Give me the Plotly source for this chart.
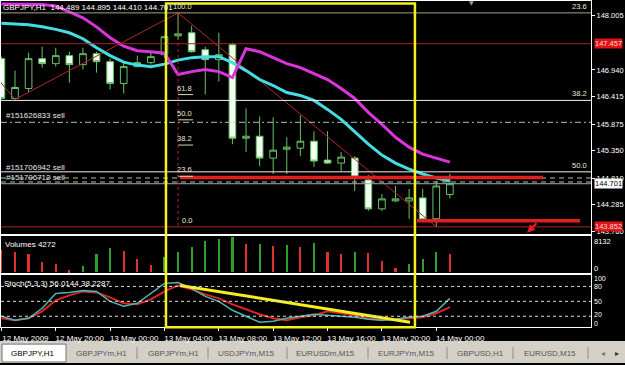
import plotly.graph_objects as go

# ---------------- data ----------------
bar_index = list(range(34))
opens = [147.163, 146.380, 146.576, 147.163, 147.065, 147.222, 147.045, 147.261, 147.104, 146.674,
         147.006, 147.085, 147.241, 147.613, 147.672, 147.339, 147.143, 147.437, 145.597, 145.636,
         145.205, 145.381, 145.401, 145.538, 145.166, 145.107, 145.205, 144.775, 144.207, 144.363,
         144.363, 144.422, 144.011, 144.489]
highs = [147.202, 146.928, 147.280, 147.398, 147.378, 147.300, 147.378, 147.300, 147.163, 147.085,
         147.222, 147.280, 147.613, 148.064, 147.809, 147.398, 147.672, 147.476, 146.184, 146.027,
         146.008, 145.616, 146.047, 145.734, 145.734, 145.323, 145.244, 144.872, 144.500, 144.657,
         144.598, 144.598, 144.755, 144.895]
lows = [146.360, 146.360, 146.497, 146.987, 147.006, 146.693, 146.948, 146.889, 146.556, 146.478,
        146.997, 147.045, 147.183, 147.535, 147.280, 146.458, 146.713, 145.479, 145.323, 145.049,
        144.892, 144.892, 145.244, 145.029, 145.088, 144.951, 144.559, 144.168, 144.168, 144.344,
        144.011, 143.972, 143.854, 144.410]
closes = [146.380, 146.595, 147.163, 147.065, 147.222, 147.045, 147.261, 147.104, 146.674, 147.006,
          147.085, 147.202, 147.594, 147.652, 147.300, 147.143, 147.241, 145.597, 145.636, 145.205,
          145.362, 145.421, 145.538, 145.147, 145.107, 145.225, 144.833, 144.207, 144.403, 144.403,
          144.422, 143.992, 144.657, 144.701]
ma_fast = [147.858, 147.848, 147.829, 147.789, 147.740, 147.672, 147.555, 147.378, 147.222, 147.094,
           147.036, 147.006, 147.055, 147.134, 147.183, 147.202, 147.202, 147.085, 146.928, 146.752,
           146.634, 146.497, 146.439, 146.341, 146.164, 145.969, 145.714, 145.479, 145.264, 145.107,
           144.990, 144.892, 144.814, 144.755]
ma_slow = [148.240, 148.240, 148.240, 148.230, 148.201, 148.083, 147.966, 147.789, 147.574, 147.408,
           147.320, 147.300, 147.271, 146.850, 146.908, 146.948, 146.908, 146.791, 147.359, 147.300,
           147.183, 147.065, 146.987, 146.869, 146.752, 146.576, 146.380, 146.106, 145.871, 145.616,
           145.421, 145.284, 145.205, 145.127]
volumes = [5200, 4670, 4300, 2490, 1960, 420, 1570, 4350, 5660, 5040,
           3120, 1730, 3500, 4800, 5820, 7350, 7740, 8132, 6500, 6650,
           6190, 6350, 5820, 6810, 4800, 4270, 4670, 4500, 2660, 970,
           1960, 3120, 4670, 4272]
stoch_k = [20, 12, 16, 36, 66, 68, 72, 70, 50, 40, 46, 66, 86, 88, 76, 60, 50, 32, 20, 8,
           10, 16, 20, 24, 22, 20, 18, 14, 12, 14, 18, 20, 30, 56.0144]
stoch_d = [16, 12, 16, 30, 52, 62, 70, 68, 58, 46, 44, 54, 70, 82, 74, 64, 56, 44, 34, 24,
           16, 12, 18, 22, 30, 26, 22, 16, 12, 14, 16, 18, 26, 38.2287]

time_ticks = [0, 4, 8, 12, 16, 20, 24, 28, 32]
time_labels = ["12 May 2009", "12 May 20:00", "13 May 00:00", "13 May 04:00", "13 May 08:00",
               "13 May 12:00", "13 May 16:00", "13 May 20:00", "14 May 00:00"]
price_ticks = [148.005, 146.940, 146.415, 145.875, 145.350, 144.810, 144.285, 143.760]

zigzag_bars = [-1, 1, 13, 32]
zigzag_prices = [147.000, 146.360, 148.064, 143.854]

fib_high, fib_low = 148.064, 143.854
fib_left_levels = [100.0, 61.8, 50.0, 38.2, 23.6, 0.0]
fib_right_levels = {"23.6": 148.064, "38.2": 146.341, "50.0": 144.935}

order_lines = [("#151626833 sell", 145.910, "dashdot"),
               ("#151706942 sell", 144.814, "dash"),
               ("#151706712 sell", 144.735, "dash")]
bid_price = 144.701
red_levels = [147.457, 143.852]
thick_red_lines = [(144.824, 13.14, 39.85), (143.972, 30.58, 42.58)]

stoch_levels = [80, 50, 20]
stoch_trend_bars = [13.14, 30.07]
stoch_trend_vals = [82, 8]
yellow_box_bars = [12.11, 30.43]

tabs = ["GBPJPY,H1", "GBPJPYm,H1", "GBPJPYm,H1", "USDJPYm,M15", "EURUSDm,M15",
        "EURJPYm,M15", "GBPUSD,H1", "EURUSD,M15"]

# ---------------- geometry helpers ----------------
W, H = 625, 365
FONT = "Liberation Sans"


def px(x):
    return x / W


def py(y):
    return 1 - y / H


X_LEFT, X_RIGHT = 1, 591
BAR0, BAR_STEP = 1.4, 13.59
x_range = [(X_LEFT - BAR0) / BAR_STEP, (X_RIGHT - BAR0) / BAR_STEP]

vol_colors = []
for i, v in enumerate(volumes):
    up = i > 0 and v > volumes[i - 1]
    vol_colors.append("#2FA02F" if up else "#E03030")

fig = go.Figure()

fig.add_trace(go.Candlestick(
    x=bar_index, open=opens, high=highs, low=lows, close=closes,
    increasing=dict(line=dict(color="#66C466", width=1), fillcolor="black"),
    decreasing=dict(line=dict(color="#66C466", width=1), fillcolor="#F4FFF4"),
    whiskerwidth=0, hoverinfo="skip", xaxis="x", yaxis="y"))

fig.add_trace(go.Scatter(x=zigzag_bars, y=zigzag_prices, mode="lines",
                         line=dict(color="#B02828", width=1), hoverinfo="skip",
                         xaxis="x", yaxis="y"))
fig.add_trace(go.Scatter(x=bar_index, y=ma_fast, mode="lines",
                         line=dict(color="#45DCE4", width=3), hoverinfo="skip",
                         xaxis="x", yaxis="y"))
fig.add_trace(go.Scatter(x=bar_index, y=ma_slow, mode="lines",
                         line=dict(color="#DD33DD", width=3), hoverinfo="skip",
                         xaxis="x", yaxis="y"))

fig.add_trace(go.Bar(x=bar_index, y=volumes, width=0.16, marker=dict(color=vol_colors, line=dict(width=0)),
                     hoverinfo="skip", xaxis="x2", yaxis="y2"))

fig.add_trace(go.Scatter(x=bar_index, y=stoch_d, mode="lines",
                         line=dict(color="#E02424", width=2), hoverinfo="skip",
                         xaxis="x3", yaxis="y3"))
fig.add_trace(go.Scatter(x=bar_index, y=stoch_k, mode="lines",
                         line=dict(color="#4FB4B4", width=1.5), hoverinfo="skip",
                         xaxis="x3", yaxis="y3"))
fig.add_trace(go.Scatter(x=stoch_trend_bars, y=stoch_trend_vals, mode="lines",
                         line=dict(color="#F4F020", width=3), hoverinfo="skip",
                         xaxis="x3", yaxis="y3"))

shapes = []


def hline(y, color, width=1, dash="solid", xref="x domain", yref="y", x0=0, x1=1):
    shapes.append(dict(type="line", xref=xref, yref=yref, x0=x0, x1=x1, y0=y, y1=y,
                       line=dict(color=color, width=width, dash=dash)))


# fib / object lines in main window
hline(fib_high, "#A4A484")
hline(red_levels[0], "#B02020")
hline(fib_right_levels["38.2"], "#F0F0F0")
hline(fib_right_levels["50.0"], "#F0F0F0")
for _, price, dash in order_lines:
    hline(price, "#A8C4A8", 1, "6px,3px,2px,3px" if dash == "dashdot" else "5px,4px")
hline(bid_price, "#A8A8A8")
hline(red_levels[1], "#B02020")
for price, b0, b1 in thick_red_lines:
    hline(price, "#E41E1E", 3.5, "solid", xref="x", x0=b0, x1=b1)
for lvl in fib_left_levels[1:-1]:
    price = fib_low + lvl / 100 * (fib_high - fib_low)
    hline(price, "#D8D8B8", 1, "solid", xref="x", x0=13, x1=14.1)
shapes.append(dict(type="line", xref="x", yref="y", x0=13, x1=13, y0=fib_high, y1=fib_low,
                   line=dict(color="#B02828", width=1, dash="3px,3px")))

# stochastic levels
for lv in stoch_levels:
    hline(lv, "#DCDCDC", 1, "3px,3px", xref="x3 domain", yref="y3")

# yellow highlight box spanning all windows
shapes.append(dict(type="rect", xref="x", yref="paper", x0=yellow_box_bars[0], x1=yellow_box_bars[1],
                   y0=py(329), y1=py(3.5), line=dict(color="#F4F020", width=2.5)))

# tab strip
shapes.append(dict(type="rect", xref="paper", yref="paper", x0=0, x1=1, y0=0, y1=py(343),
                   fillcolor="#D4D0C8", line=dict(width=0), layer="below"))
shapes.append(dict(type="rect", xref="paper", yref="paper", x0=px(2), x1=px(66), y0=py(364), y1=py(346),
                   fillcolor="white", line=dict(color="#707070", width=1)))
for sx in [137, 208, 287, 368, 447, 513, 588]:
    shapes.append(dict(type="line", xref="paper", yref="paper", x0=px(sx), x1=px(sx),
                       y0=py(361), y1=py(349), line=dict(color="#8C8C8C", width=1)))

annotations = []


def add_text(text, x, y, xref="paper", yref="paper", xanchor="left", yanchor="middle",
             size=8, color="white", family=FONT, **kw):
    annotations.append(dict(text=text, x=x, y=y, xref=xref, yref=yref, xanchor=xanchor,
                            yanchor=yanchor, showarrow=False, borderpad=0,
                            font=dict(family=family, size=size, color=color), **kw))


add_text("GBPJPY,H1\u00a0\u00a0144.489\u00a0144.895\u00a0144.410\u00a0144.701", px(2), py(7.5), size=8)
add_text("#151626833 sell", px(5), py(116.5), color="#E6E6E6")
add_text("#151706942 sell", px(5), py(168.5), color="#E6E6E6")
add_text("#151706712 sell", px(5), py(178.5), color="#E6E6E6")

for lvl in fib_left_levels:
    price = fib_low + lvl / 100 * (fib_high - fib_low)
    add_text(f"{lvl:.1f}", 14.1, price, xref="x", yref="y", xanchor="right", yanchor="bottom",
             size=7.5, color="#EAEAD0", yshift=1)
for lab, price in fib_right_levels.items():
    add_text(lab, 1, price, xref="x domain", yref="y", xanchor="right", yanchor="bottom",
             size=7.5, color="#EAEAD0", xshift=-3, yshift=1)

add_text("147.457", px(594), red_levels[0], yref="y", size=7.5, color="#FFD8D8", bgcolor="#E01414")
add_text("144.701", px(594), bid_price, yref="y", size=7.5, color="black", bgcolor="white")
add_text("143.852", px(594), red_levels[1], yref="y", size=7.5, color="#FFD8D8", bgcolor="#E01414")

add_text("Volumes 4272", px(4), py(245.5))
add_text("8132", px(593), py(243), size=7.5)
add_text("0", px(593), py(269.5), size=7.5)
add_text("Stoch(5,3,3) 56.0144 38.2287", px(3), py(285.5))
for lab, yy in [("100", 280), ("80", 288.5), ("50", 303), ("20", 316), ("0", 325.5)]:
    add_text(lab, px(593), py(yy), size=7)

add_text("\u25bc", px(471), py(3), size=6, color="#9A9A9A", family="DejaVu Sans", xanchor="center")

# red arrow
annotations.append(dict(x=38.68, y=143.737, xref="x", yref="y", ax=11, ay=-11, showarrow=True,
                        arrowhead=2, arrowsize=0.8, arrowwidth=2, arrowcolor="#E41E1E", text=""))

tab_x = [10, 75, 147, 217, 295, 377, 456, 523]
for i, (t, tx) in enumerate(zip(tabs, tab_x)):
    add_text(t, px(tx), py(355), color="black" if i == 0 else "#555555")
add_text("\u25c2", px(603), py(355), size=8, color="#777777", family="DejaVu Sans", xanchor="center")
add_text("\u25b8", px(617), py(355), size=8, color="#333333", family="DejaVu Sans", xanchor="center")

axis_common = dict(showgrid=False, zeroline=False, showline=True, mirror=True,
                   linecolor="white", linewidth=1)

fig.update_layout(
    width=W, height=H, margin=dict(l=0, r=0, t=0, b=0),
    paper_bgcolor="black", plot_bgcolor="black", showlegend=False,
    font=dict(family=FONT, size=8, color="white"),
    xaxis=dict(domain=[px(X_LEFT), px(X_RIGHT)], range=x_range, showticklabels=False, ticks="",
               rangeslider=dict(visible=False), anchor="y", **axis_common),
    yaxis=dict(domain=[py(235), py(1)], range=[143.717, 148.298], side="right", anchor="x",
               tickvals=price_ticks, ticktext=[f"{v:.3f}" for v in price_ticks],
               ticks="outside", ticklen=3, tickcolor="white",
               tickfont=dict(family=FONT, size=7.5, color="white"), **axis_common),
    xaxis2=dict(domain=[px(X_LEFT), px(X_RIGHT)], range=x_range, showticklabels=False, ticks="",
                anchor="y2", **axis_common),
    yaxis2=dict(domain=[py(275), py(237)], range=[-346, 8431], side="right", anchor="x2",
                showticklabels=False, ticks="", **axis_common),
    xaxis3=dict(domain=[px(X_LEFT), px(X_RIGHT)], range=x_range, anchor="y3",
                tickvals=time_ticks, ticktext=time_labels, ticks="outside", ticklen=3,
                tickcolor="white", ticklabelshift=24,
                tickfont=dict(family=FONT, size=8, color="white"), **axis_common),
    yaxis3=dict(domain=[py(329), py(277)], range=[-2, 102], side="right", anchor="x3",
                showticklabels=False, ticks="", **axis_common),
    shapes=shapes, annotations=annotations, bargap=0,
)

fig.write_html("out.html")
